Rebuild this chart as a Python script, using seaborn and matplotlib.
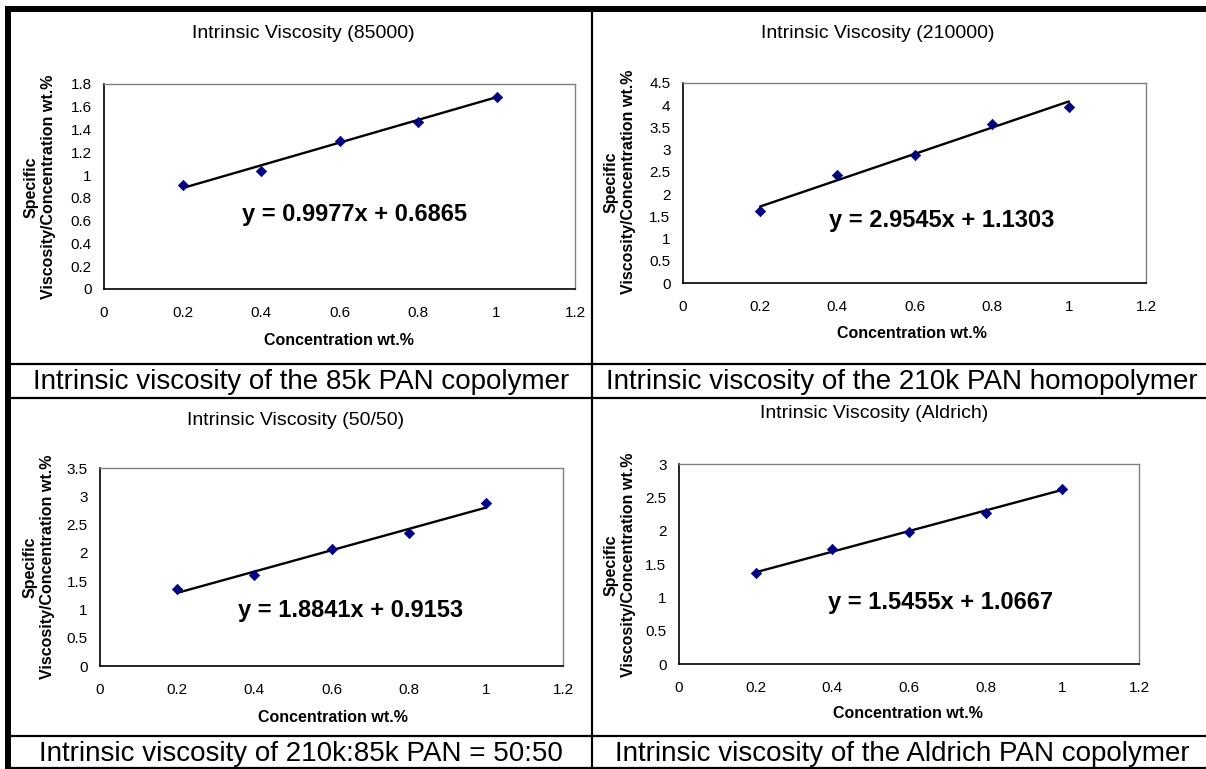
import matplotlib
matplotlib.use("Agg")
import matplotlib.pyplot as plt
from matplotlib.lines import Line2D
import numpy as np
import pandas as pd
import seaborn as sns

# ---- data -------------------------------------------------------------
conc = [0.2, 0.4, 0.6, 0.8, 1.0]
visc_85k = [0.91, 1.04, 1.30, 1.47, 1.69]
visc_210k = [1.63, 2.42, 2.88, 3.58, 3.97]
visc_5050 = [1.36, 1.60, 2.06, 2.35, 2.88]
visc_aldrich = [1.37, 1.72, 1.98, 2.27, 2.63]

slopes = [0.9977, 2.9545, 1.8841, 1.5455]
intercepts = [0.6865, 1.1303, 0.9153, 1.0667]

titles = ["Intrinsic Viscosity (85000)", "Intrinsic Viscosity (210000)",
          "Intrinsic Viscosity (50/50)", "Intrinsic Viscosity (Aldrich)"]
captions = ["Intrinsic viscosity of the 85k PAN copolymer",
            "Intrinsic viscosity of the 210k PAN homopolymer",
            "Intrinsic viscosity of 210k:85k PAN = 50:50",
            "Intrinsic viscosity of the Aldrich PAN copolymer"]
y_max = [1.8, 4.5, 3.5, 3.0]
y_step = [0.2, 0.5, 0.5, 0.5]
x_ticks = [0, 0.2, 0.4, 0.6, 0.8, 1.0, 1.2]
x_label = "Concentration wt.%"
y_label = "Specific\nViscosity/Concentration wt.%"

# ---- layout (pixels) ------------------------------------------------------
W, H = 1206, 769
sns.set_theme(style="white")
plt.rcParams["font.family"] = ["Liberation Sans", "DejaVu Sans"]
for key in ("text.color", "axes.labelcolor", "xtick.color", "ytick.color",
            "axes.edgecolor"):
    plt.rcParams[key] = "black"

fig = plt.figure(figsize=(W / 100, H / 100), dpi=100)
fig.patch.set_facecolor("white")


def fx(x):
    return x / W


def fy(y):
    return 1 - y / H


# axes boxes: left, top, right, bottom
boxes = [(104, 84, 575, 289), (683, 83, 1146, 283),
         (100, 468, 563, 666), (679, 464, 1139, 664)]
title_pos = [(303, 33), (878, 33), (296, 420), (874, 413)]
xlabel_pos = [(339, 340), (912, 333), (333, 717), (908, 713)]
ylabel_pos = [(40, 187), (620, 182), (39, 567), (620, 565)]
eq_pos = [(354, 215), (942, 220), (351, 610), (941, 603)]
caption_pos = [(301, 389), (902, 389), (301, 761), (902, 761)]

series = [visc_85k, visc_210k, visc_5050, visc_aldrich]

for i in range(4):
    l, t, r, b = boxes[i]
    ax = fig.add_axes([fx(l), fy(b), fx(r - l), (b - t) / H])
    df = pd.DataFrame({"c": conc, "v": series[i]})

    # linear trendline from the fitted equation
    xl = np.array([conc[0], conc[-1]])
    fit = pd.DataFrame({"c": xl, "v": slopes[i] * xl + intercepts[i]})
    sns.lineplot(data=fit, x="c", y="v", ax=ax, color="black", lw=1.7, zorder=2)
    sns.scatterplot(data=df, x="c", y="v", ax=ax, marker="D", s=28,
                    color="#000080", edgecolor="#000080", linewidth=0.5, zorder=3)

    ax.set_xlim(0, 1.2)
    ax.set_ylim(0, y_max[i])
    ax.set_xticks(x_ticks)
    ax.set_xticklabels([f"{v:g}" for v in x_ticks])
    yt = np.round(np.arange(0, y_max[i] + 1e-9, y_step[i]), 2)
    ax.set_yticks(yt)
    ax.set_yticklabels([f"{v:g}" for v in yt])
    ax.set_xlabel("")
    ax.set_ylabel("")
    ax.tick_params(axis="both", direction="out", length=4, width=1,
                   color="black", labelsize=11, labelcolor="black")
    ax.tick_params(axis="x", pad=8)
    ax.tick_params(axis="y", pad=5)
    for side in ("left", "bottom"):
        ax.spines[side].set_color("black")
        ax.spines[side].set_linewidth(1.2)
    for side in ("top", "right"):
        ax.spines[side].set_color("#808080")
        ax.spines[side].set_linewidth(1.0)
    ax.grid(False)
    ax.set_facecolor("white")

    fig.text(fx(title_pos[i][0]), fy(title_pos[i][1]), titles[i],
             ha="center", va="center", fontsize=14)
    fig.text(fx(xlabel_pos[i][0]), fy(xlabel_pos[i][1]), x_label,
             ha="center", va="center", fontsize=11.5, fontweight="bold")
    fig.text(fx(ylabel_pos[i][0]), fy(ylabel_pos[i][1]), y_label,
             ha="center", va="center", fontsize=11.5, fontweight="bold",
             rotation=90, linespacing=1.2)
    fig.text(fx(eq_pos[i][0]), fy(eq_pos[i][1]),
             f"y = {slopes[i]:.4f}x + {intercepts[i]:.4f}",
             ha="center", va="center", fontsize=17, fontweight="bold")
    fig.text(fx(caption_pos[i][0]), fy(caption_pos[i][1]), captions[i],
             ha="center", va="baseline", fontsize=20)

# ---- table rules ----------------------------------------------------------
def rule(x0, y0, x1, y1, lw):
    fig.add_artist(Line2D([fx(x0), fx(x1)], [fy(y0), fy(y1)],
                          transform=fig.transFigure, color="black",
                          linewidth=lw, solid_capstyle="butt"))


rule(5, 9, W, 9, 4.3)            # top border
rule(8, 6, 8, H, 4.3)            # left border
rule(592, 9, 592, H, 1.6)        # centre divider
for yy in (364, 398, 736, 767.5):
    rule(8, yy, W, yy, 1.6)

fig.savefig("out.png", dpi=100, facecolor="white")
